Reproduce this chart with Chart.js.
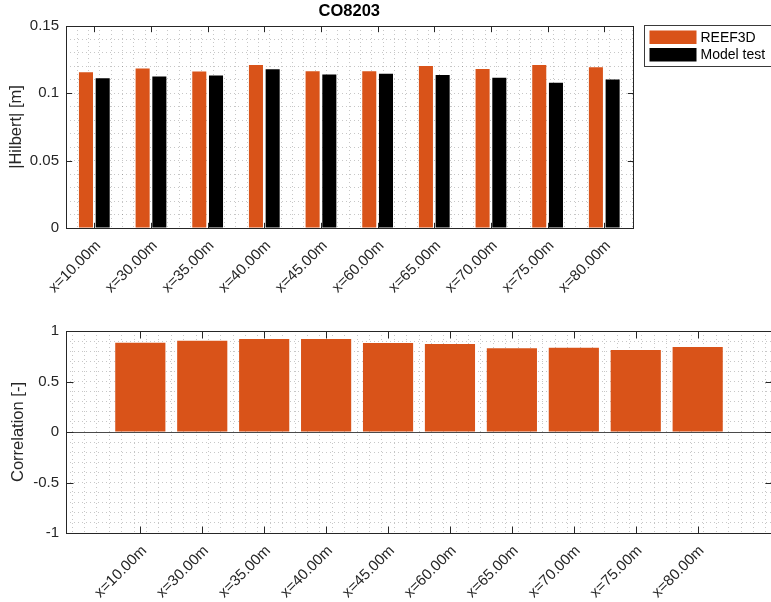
<!DOCTYPE html>
<html>
<head>
<meta charset="utf-8">
<script src="https://cdn.jsdelivr.net/npm/chart.js@4.4.1/dist/chart.umd.min.js"></script>
<style>
  html, body { margin: 0; padding: 0; background: #fff; overflow: hidden; width: 771px; height: 602px; }
  canvas { position: absolute; left: 0; }
  #hilbertChart { top: 0; }
  #corrChart { top: 310px; }
</style>
</head>
<body>
<canvas id="hilbertChart" width="800" height="310"></canvas>
<canvas id="corrChart" width="800" height="292"></canvas>
<script>
// Probe positions along the flume
const categories = ['x=10.00m', 'x=30.00m', 'x=35.00m', 'x=40.00m', 'x=45.00m',
                    'x=60.00m', 'x=65.00m', 'x=70.00m', 'x=75.00m', 'x=80.00m'];

// Mean |Hilbert| envelope amplitude [m]
const reef3dHilbert    = [0.1157, 0.1184, 0.1162, 0.1211, 0.1164, 0.1164, 0.1203, 0.1181, 0.1211, 0.1194];
const modelTestHilbert = [0.1112, 0.1125, 0.1132, 0.1179, 0.1140, 0.1145, 0.1137, 0.1115, 0.1078, 0.1103];

// Correlation between REEF3D and model test signals [-]
const correlation = [0.884, 0.904, 0.921, 0.921, 0.882, 0.871, 0.828, 0.835, 0.812, 0.842];

// Labelled y ticks
const hilbertTicks = [0, 0.05, 0.1, 0.15];
const correlationTicks = [-1, -0.5, 0, 0.5, 1];

const ORANGE = '#D95319';
const AXIS = '#262626';
const GRID = 'rgba(0,0,0,0.22)';
const FONT = "'Liberation Sans', Arial, Helvetica, sans-serif";

// The x axes carry minor ticks every 0.2 category units (for the dotted grid),
// and Chart.js sizes bars from the smallest tick gap, so bar fractions are
// expressed relative to that 0.2 gap (i.e. multiplied by 5).
const MINOR_PER_CATEGORY = 5;

// minor tick values: k/div for k in [from, to]
function steps(from, to, div) {
  const out = [];
  for (let k = from; k <= to; k++) out.push(k / div);
  return out;
}
function majorLabel(list, v) {
  const t = list.find(m => Math.abs(m - v) < 1e-9);
  return t === undefined ? '' : String(t);
}
function categoryLabel(v) {
  const k = Math.round(v * MINOR_PER_CATEGORY);
  if (k % MINOR_PER_CATEGORY !== 0) return '';
  return categories[k / MINOR_PER_CATEGORY - 1] || '';
}

// Box, inward ticks on all four sides and the optional zero baseline
function framePlugin(tickLen, yMajor, baseline) {
  return {
    id: 'frame',
    beforeDatasetsDraw(chart) {
      if (baseline === null) return;
      const { ctx, chartArea: a, scales: { y } } = chart;
      const py = Math.round(y.getPixelForValue(baseline)) + 0.5;
      ctx.save();
      ctx.strokeStyle = '#4a4a4a';
      ctx.lineWidth = 1;
      ctx.beginPath();
      ctx.moveTo(a.left, py);
      ctx.lineTo(a.right, py);
      ctx.stroke();
      ctx.restore();
    },
    afterDatasetsDraw(chart) {
      const { ctx, chartArea: a, scales: { x, y } } = chart;
      const L = Math.round(a.left) + 0.5, R = Math.round(a.right) + 0.5;
      const T = Math.round(a.top) + 0.5, B = Math.round(a.bottom) + 0.5;
      ctx.save();
      ctx.strokeStyle = AXIS;
      ctx.lineWidth = 1;
      ctx.strokeRect(L, T, R - L, B - T);
      ctx.beginPath();
      categories.forEach((c, i) => {
        const px = Math.round(x.getPixelForValue(i + 1)) + 0.5;
        ctx.moveTo(px, B); ctx.lineTo(px, B - tickLen);
        ctx.moveTo(px, T); ctx.lineTo(px, T + tickLen);
      });
      yMajor.forEach(v => {
        const py = Math.round(y.getPixelForValue(v)) + 0.5;
        ctx.moveTo(L, py); ctx.lineTo(L + tickLen, py);
        ctx.moveTo(R, py); ctx.lineTo(R - tickLen, py);
      });
      ctx.stroke();
      ctx.restore();
    }
  };
}

// Boxed legend to the right of the upper axes
const legendBox = {
  id: 'legendBox',
  afterDraw(chart) {
    const { ctx, chartArea: a } = chart;
    const left = Math.round(a.right) + 11.5;
    ctx.save();
    ctx.strokeStyle = '#3a3a3a';
    ctx.lineWidth = 1;
    ctx.strokeRect(left, 25.5, 160, 41);
    ctx.font = '14px ' + FONT;
    ctx.textBaseline = 'middle';
    ctx.textAlign = 'left';
    chart.data.datasets.forEach((ds, i) => {
      const top = 30.5 + i * 17.5;
      ctx.fillStyle = ds.backgroundColor;
      ctx.fillRect(left + 5, top, 47, 13.5);
      ctx.fillStyle = '#000';
      ctx.fillText(ds.label, left + 56, top + 7.5);
    });
    ctx.restore();
  }
};

Chart.defaults.font.family = FONT;
Chart.defaults.font.size = 15;
Chart.defaults.color = AXIS;

function gridOpts() {
  return { drawTicks: false, color: GRID, lineWidth: 1 };
}
function borderOpts() {
  return { display: false, dash: [1, 3] };
}
function xTickOpts() {
  return { autoSkip: false, minRotation: 45, maxRotation: 45, padding: 9, labelOffset: 4,
           callback: v => categoryLabel(v) };
}

// Upper axes: Hilbert envelope
new Chart(document.getElementById('hilbertChart'), {
  type: 'bar',
  data: {
    datasets: [
      { label: 'REEF3D', data: reef3dHilbert.map((v, i) => ({ x: i + 1, y: v })),
        backgroundColor: ORANGE, categoryPercentage: 0.59 * MINOR_PER_CATEGORY, barPercentage: 0.84 },
      { label: 'Model test', data: modelTestHilbert.map((v, i) => ({ x: i + 1, y: v })),
        backgroundColor: '#000000', categoryPercentage: 0.59 * MINOR_PER_CATEGORY, barPercentage: 0.84 }
    ]
  },
  options: {
    responsive: false,
    animation: false,
    devicePixelRatio: 1,
    layout: { padding: { left: 0, top: 0, bottom: 0, right: 800 - 632.6 } },
    plugins: {
      legend: { display: false },
      tooltip: { enabled: false },
      title: { display: true, text: 'CO8203', fullSize: false, color: '#000',
               font: { size: 16.5, weight: 'bold' }, padding: { top: 1.5, bottom: 4.7 } }
    },
    scales: {
      x: {
        type: 'linear', min: 0.5, max: 10.5, offset: false,
        afterBuildTicks: s => { s.ticks = steps(3, 52, MINOR_PER_CATEGORY).map(v => ({ value: v })); },
        afterFit: s => { s.height = 82; },
        grid: gridOpts(), border: borderOpts(),
        ticks: xTickOpts()
      },
      y: {
        min: 0, max: 0.15,
        afterBuildTicks: s => { s.ticks = steps(0, 15, 100).map(v => ({ value: v })); },
        afterFit: s => { s.width = 66; },
        grid: gridOpts(), border: borderOpts(),
        title: { display: true, text: '|Hilbert| [m]', font: { size: 16.5 }, padding: { top: 6.4, bottom: 0 } },
        ticks: { autoSkip: false, padding: 7, callback: v => majorLabel(hilbertTicks, v) }
      }
    }
  },
  plugins: [framePlugin(5.7, hilbertTicks, null), legendBox]
});

// Lower axes: correlation
new Chart(document.getElementById('corrChart'), {
  type: 'bar',
  data: {
    datasets: [
      { label: 'Correlation', data: correlation.map((v, i) => ({ x: i + 1, y: v })),
        backgroundColor: ORANGE, categoryPercentage: 1 * MINOR_PER_CATEGORY, barPercentage: 0.81 }
    ]
  },
  options: {
    responsive: false,
    animation: false,
    devicePixelRatio: 1,
    layout: { padding: { left: 0, top: 21, bottom: 0, right: 800 - 772 } },
    plugins: { legend: { display: false }, tooltip: { enabled: false } },
    scales: {
      x: {
        type: 'linear', min: -0.2, max: 11.2, offset: false,
        afterBuildTicks: s => { s.ticks = steps(0, 55, MINOR_PER_CATEGORY).map(v => ({ value: v })); },
        afterFit: s => { s.height = 69; },
        grid: gridOpts(), border: borderOpts(),
        ticks: xTickOpts()
      },
      y: {
        min: -1, max: 1,
        afterBuildTicks: s => { s.ticks = steps(-10, 10, 10).map(v => ({ value: v })); },
        afterFit: s => { s.width = 66; },
        grid: gridOpts(), border: borderOpts(),
        title: { display: true, text: 'Correlation [-]', font: { size: 16.5 }, padding: { top: 8.4, bottom: 0 } },
        ticks: { autoSkip: false, padding: 7, callback: v => majorLabel(correlationTicks, v) }
      }
    }
  },
  plugins: [framePlugin(7, correlationTicks, 0)]
});
</script>
</body>
</html>
